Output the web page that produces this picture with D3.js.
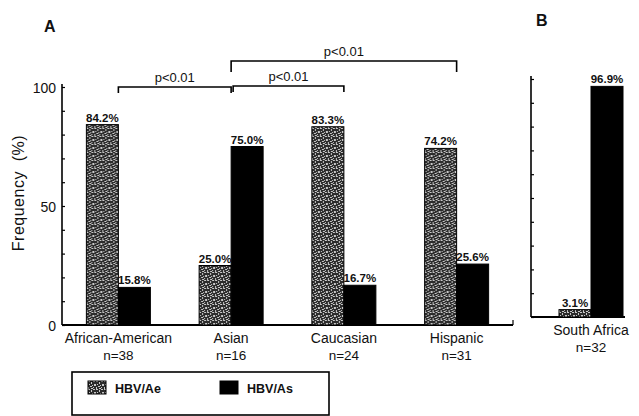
<!DOCTYPE html>
<html>
<head>
<meta charset="utf-8">
<title>HBV genotype frequency</title>
<style>
  body { margin: 0; background: #fff; }
  text { font-family: "Liberation Sans", Arial, sans-serif; fill: #111; }
</style>
</head>
<body>
<main></main>
<script src="https://cdn.jsdelivr.net/npm/d3@7"></script>
<script>
    // 数据
    var groupsA = ["African-American", "Asian", "Caucasian", "Hispanic"];
    var nA = [38, 16, 24, 31];
    var aeA = [84.2, 25.0, 83.3, 74.2];
    var asA = [15.8, 75.0, 16.7, 25.6];

    var groupsB = ["South Africa"];
    var nB = [32];
    var aeB = [3.1];
    var asB = [96.9];

    var seriesNames = ["HBV/Ae", "HBV/As"];
    var yTickLabels = [0, 50, 100];
    var yMinorTicks = [0, 10, 20, 30, 40, 50, 60, 70, 80, 90, 100];

    // p值括号: [左组, 右组, 层级]
    var brackets = [
        ["African-American", "Asian", 0],
        ["Asian", "Caucasian", 0],
        ["Asian", "Hispanic", 1]
    ];

    var width = 639, height = 416;
    var svg = d3.select("main").append("svg")
        .attr("width", width)
        .attr("height", height);

    // 斑点填充
    var defs = svg.append("defs");
    var pat = defs.append("pattern")
        .attr("id", "speckle")
        .attr("patternUnits", "userSpaceOnUse")
        .attr("width", 8).attr("height", 8);
    pat.append("rect").attr("width", 8).attr("height", 8).attr("fill", "#2c2c2c");
    var dots = [[0,0,2,1],[3,1,1,2],[5,0,2,1],[1,3,1,1],[6,3,2,2],[2,5,2,1],[4,4,1,1],[0,6,1,2],[5,6,1,1],[3,7,2,1]];
    pat.selectAll("rect.d").data(dots).enter().append("rect")
        .attr("class", "d")
        .attr("x", function (d) { return d[0]; })
        .attr("y", function (d) { return d[1]; })
        .attr("width", function (d) { return d[2]; })
        .attr("height", function (d) { return d[3]; })
        .attr("fill", "#c8c8c8");
    var fills = { "HBV/Ae": "url(#speckle)", "HBV/As": "#000" };

    function drawPanel(opt) {
        var g = svg.append("g");
        var x = d3.scaleBand().domain(opt.groups).range(opt.xRange);
        var xs = d3.scaleBand().domain(seriesNames).range([-32, 32]);
        var y = d3.scaleLinear().domain([0, 100]).range(opt.yRange);

        // 轴
        g.append("line")
            .attr("x1", opt.xRange[0]).attr("x2", opt.xRange[0])
            .attr("y1", y(0)).attr("y2", y(100) - 3)
            .attr("stroke", "#000").attr("stroke-width", 1.6);
        g.append("line")
            .attr("x1", opt.xRange[0]).attr("x2", opt.xEnd)
            .attr("y1", y(0)).attr("y2", y(0))
            .attr("stroke", "#000").attr("stroke-width", 1.8);
        if (opt.endTick) {
            g.append("line")
                .attr("x1", opt.xEnd).attr("x2", opt.xEnd)
                .attr("y1", y(0)).attr("y2", y(0) - 5)
                .attr("stroke", "#000").attr("stroke-width", 1.2);
        }

        var minor = g.append("g")
            .attr("transform", "translate(" + opt.xRange[0] + ",0)")
            .call(d3.axisRight(y).tickValues(yMinorTicks).tickSize(3).tickFormat(""));
        minor.select(".domain").remove();
        minor.selectAll("line").attr("stroke-width", 1.2);

        if (opt.labels) {
            var ax = g.append("g")
                .attr("transform", "translate(" + opt.xRange[0] + ",0)")
                .call(d3.axisLeft(y).tickValues(yTickLabels).tickSize(0).tickPadding(6));
            ax.select(".domain").remove();
            ax.selectAll("text").style("font-size", "14px")
                .style("font-family", "'Liberation Sans', Arial, sans-serif")
                .attr("fill", "#111").attr("dy", "0.4em");
        }

        // 柱
        var rows = opt.groups.map(function (c, i) {
            return { cat: c, n: opt.n[i], vals: [
                { s: "HBV/Ae", v: opt.ae[i] },
                { s: "HBV/As", v: opt.as[i] }
            ] };
        });
        var grp = g.selectAll("g.grp").data(rows).enter().append("g")
            .attr("class", "grp")
            .attr("transform", function (d) {
                return "translate(" + (x(d.cat) + x.bandwidth() / 2) + ",0)";
            });
        grp.selectAll("rect").data(function (d) { return d.vals; }).enter().append("rect")
            .attr("x", function (d) { return xs(d.s); })
            .attr("width", xs.bandwidth())
            .attr("y", function (d) { return y(d.v); })
            .attr("height", function (d) { return y(0) - y(d.v); })
            .attr("fill", function (d) { return fills[d.s]; })
            .attr("stroke", "#000").attr("stroke-width", 1);
        grp.selectAll("text.val").data(function (d) { return d.vals; }).enter().append("text")
            .attr("class", "val")
            .attr("x", function (d) { return xs(d.s) + xs.bandwidth() / 2; })
            .attr("y", function (d) { return y(d.v) - 3; })
            .attr("text-anchor", "middle")
            .style("font-size", "11.5px").style("font-weight", "bold")
            .text(function (d) { return d.v.toFixed(1) + "%"; });
        grp.append("text")
            .attr("y", y(0) + opt.labelGap)
            .attr("text-anchor", "middle")
            .style("font-size", "14px")
            .text(function (d) { return d.cat; });
        grp.append("text")
            .attr("y", y(0) + opt.labelGap + 17)
            .attr("text-anchor", "middle")
            .style("font-size", "13.5px")
            .text(function (d) { return "n=" + d.n; });

        return { x: x, y: y };
    }

    var pa = drawPanel({
        groups: groupsA, n: nA, ae: aeA, as: asA,
        xRange: [62, 513], xEnd: 513, yRange: [325, 87],
        labels: true, endTick: true, labelGap: 18
    });
    drawPanel({
        groups: groupsB, n: nB, ae: aeB, as: asB,
        xRange: [531, 651], xEnd: 625, yRange: [317, 79],
        labels: false, endTick: false, labelGap: 18
    });

    // 括号
    var levelY = [87, 61];
    var tickLen = [6, 11];
    brackets.forEach(function (b) {
        var x1 = pa.x(b[0]) + pa.x.bandwidth() / 2;
        var x2 = pa.x(b[1]) + pa.x.bandwidth() / 2;
        var yy = levelY[b[2]];
        if (b[2] === 0 && b[0] === "Asian") { x1 += 2; yy -= 1; }
        svg.append("path")
            .attr("d", "M" + x1 + "," + (yy + tickLen[b[2]]) + "V" + yy + "H" + x2 + "V" + (yy + tickLen[b[2]]))
            .attr("fill", "none").attr("stroke", "#000").attr("stroke-width", 1.6);
        svg.append("text")
            .attr("x", (x1 + x2) / 2)
            .attr("y", yy - 5)
            .attr("text-anchor", "middle")
            .style("font-size", "13px")
            .text("p<0.01");
    });

    // 轴标题与面板字母
    svg.append("text")
        .attr("transform", "translate(24,193) rotate(-90)")
        .attr("text-anchor", "middle")
        .style("font-size", "16px")
        .style("letter-spacing", "0.5px")
        .text("Frequency  (%)")
        .attr("xml:space", "preserve")
        .style("white-space", "pre");
    svg.append("text").attr("x", 44).attr("y", 32)
        .style("font-size", "16px").style("font-weight", "bold").text("A");
    svg.append("text").attr("x", 536).attr("y", 26)
        .style("font-size", "16px").style("font-weight", "bold").text("B");

    // 图例
    var leg = svg.append("g");
    leg.append("rect")
        .attr("x", 72).attr("y", 372).attr("width", 257).attr("height", 43)
        .attr("fill", "none").attr("stroke", "#000").attr("stroke-width", 1.6);
    var items = leg.selectAll("g.it").data(seriesNames).enter().append("g")
        .attr("class", "it")
        .attr("transform", function (d, i) { return "translate(" + (88 + i * 132) + ",381)"; });
    items.append("rect")
        .attr("width", 18).attr("height", 13)
        .attr("fill", function (d) { return fills[d]; })
        .attr("stroke", "#000");
    items.append("text")
        .attr("x", 27).attr("y", 11.5)
        .style("font-size", "12.5px").style("font-weight", "bold")
        .text(function (d) { return d; });
</script>
</body>
</html>
